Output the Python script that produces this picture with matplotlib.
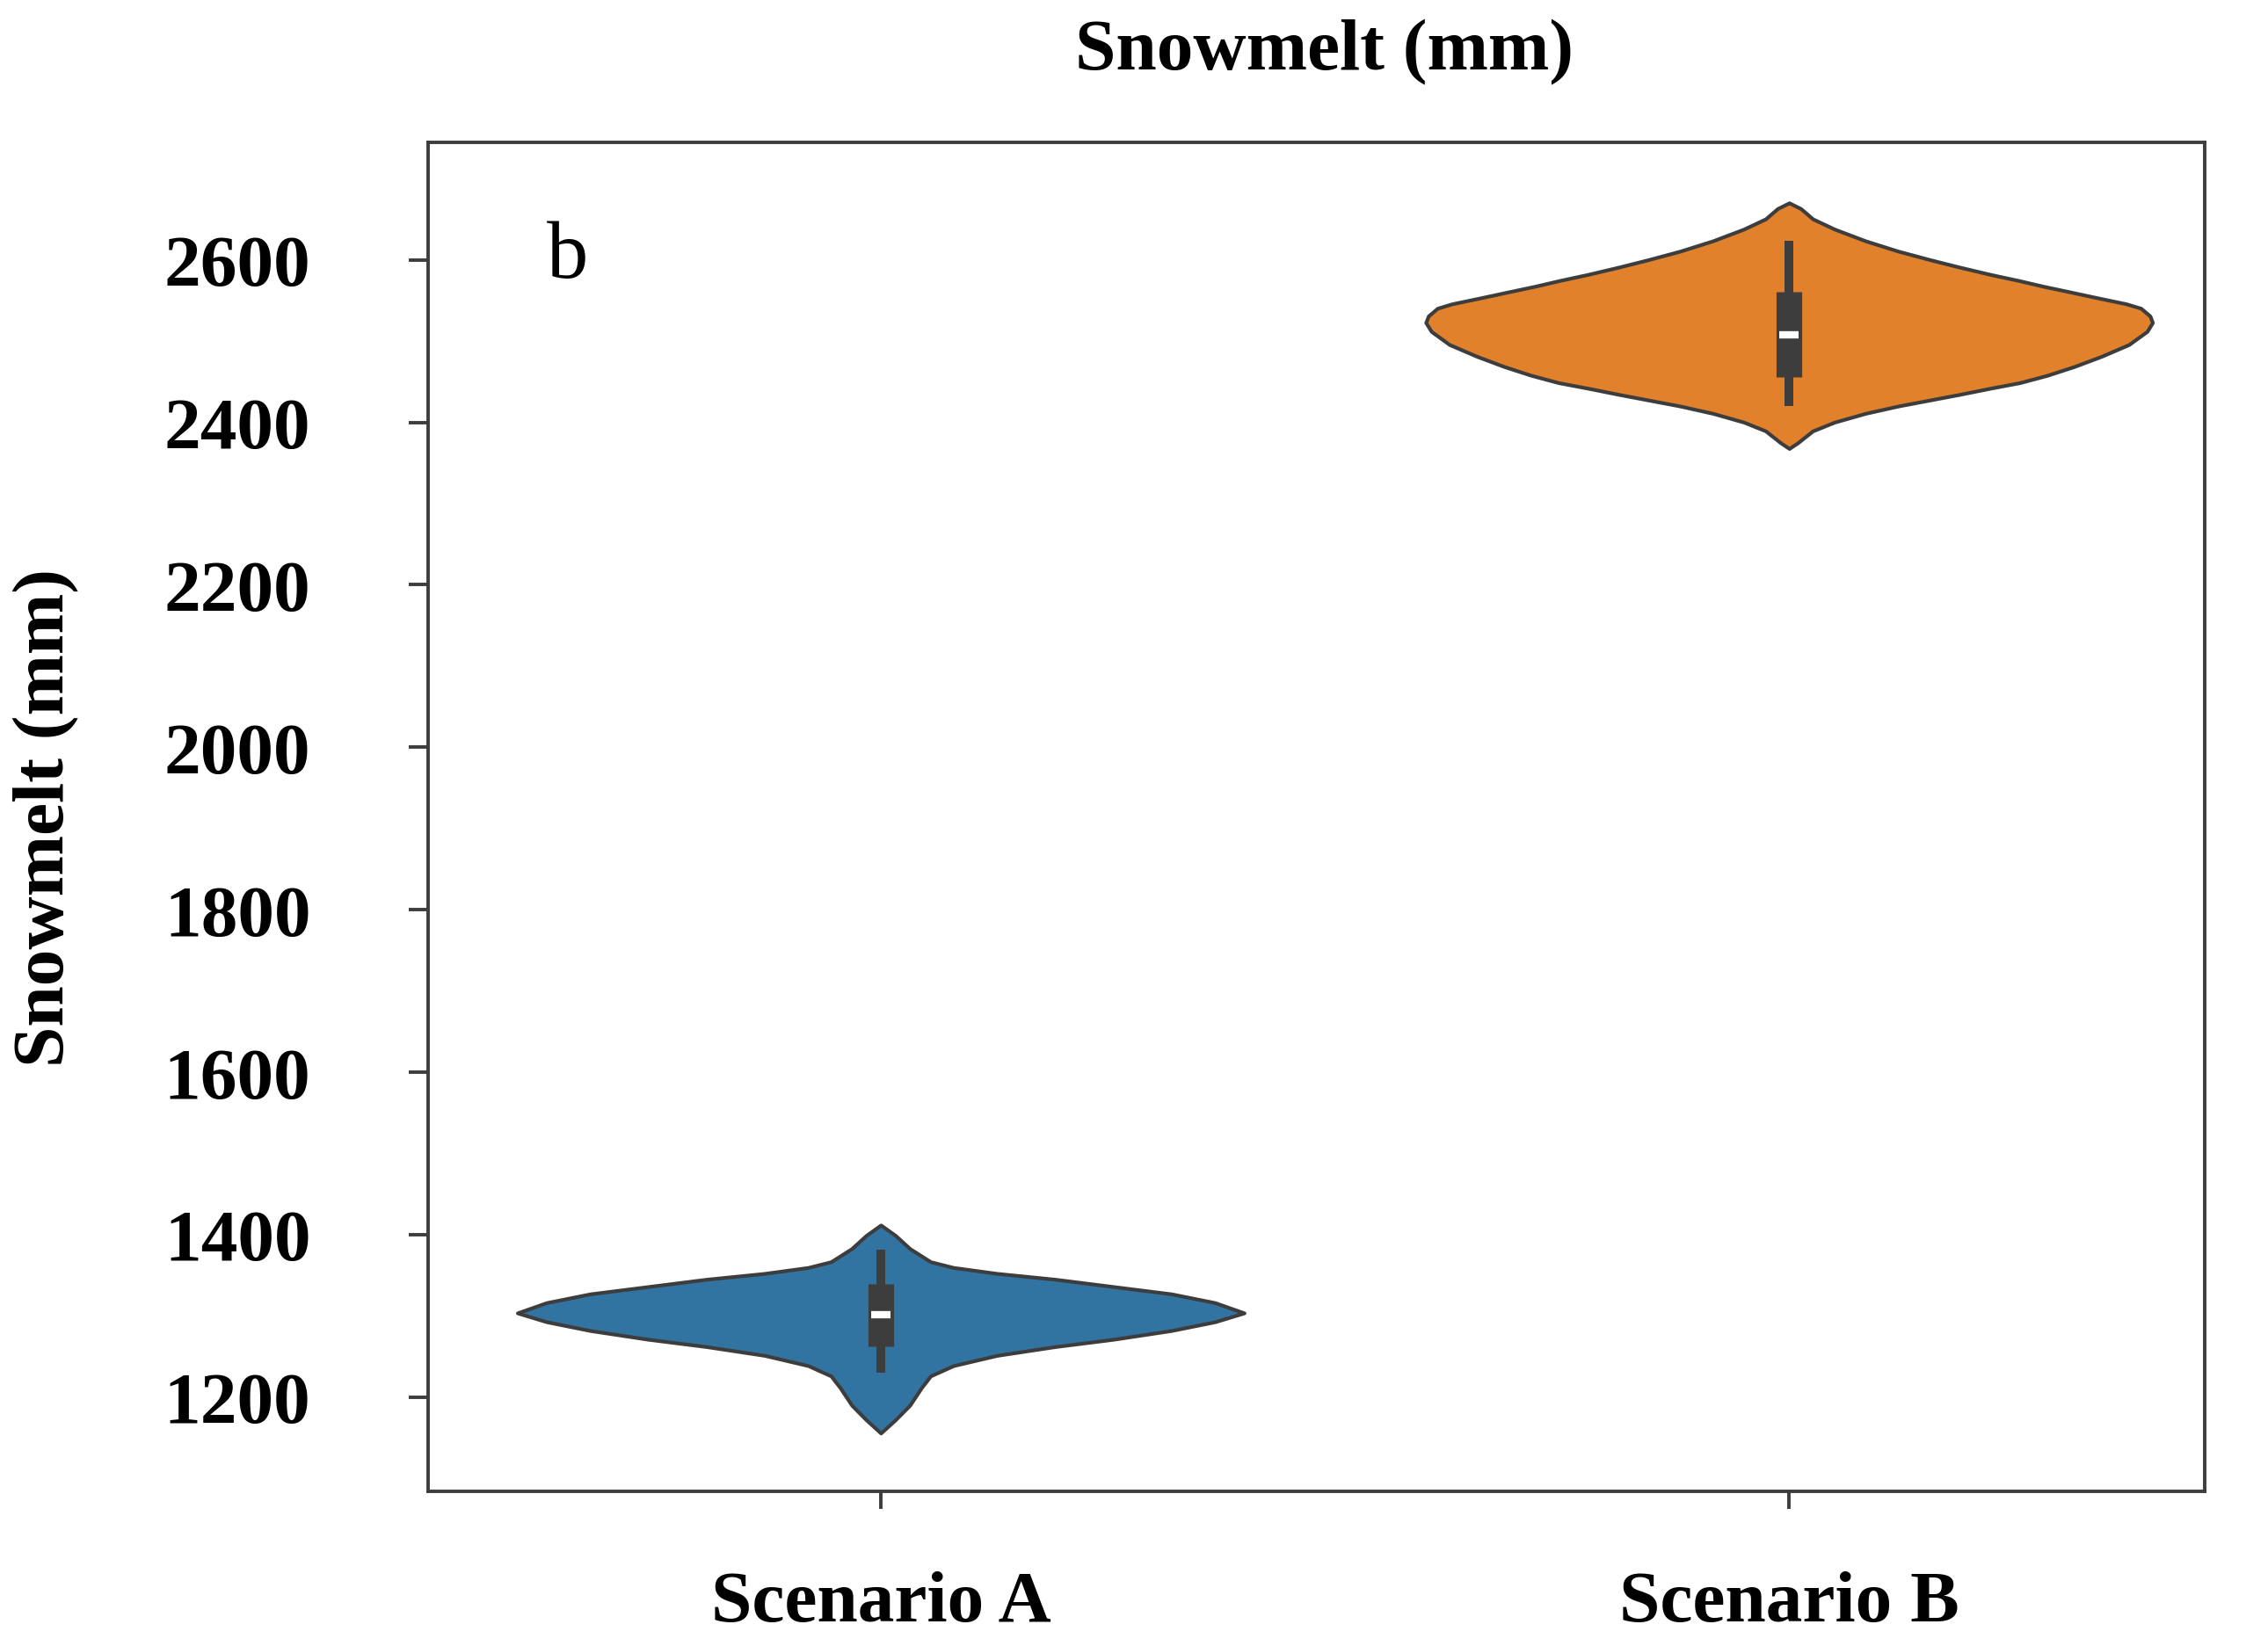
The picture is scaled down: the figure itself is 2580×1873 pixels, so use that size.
import matplotlib
matplotlib.use('Agg')
import matplotlib.pyplot as plt
import numpy as np

plt.rcParams['font.family'] = ['Liberation Serif', 'DejaVu Serif']

# categories
scenarios = ['Scenario A', 'Scenario B']
colors = ['#3274a1', '#e1812c']

# violin outlines: value (mm) and relative half width
a_vals = [1411.8, 1399.1, 1382.8, 1366.6, 1359.5, 1352.2, 1345.0, 1336.0, 1327.0, 1316.2,
          1303.6, 1292.7, 1281.9, 1271.1, 1262.1, 1251.3, 1238.7, 1226.0, 1211.6, 1190.0,
          1171.9, 1155.7]
a_width = [0.0, 0.04, 0.08, 0.137, 0.20, 0.32, 0.48, 0.64, 0.80, 0.92,
           1.0, 0.92, 0.80, 0.64, 0.48, 0.32, 0.20, 0.137, 0.112, 0.08,
           0.04, 0.0]

b_vals = [2670.3, 2663.2, 2650.5, 2637.9, 2623.5, 2610.8, 2600.0, 2591.0, 2582.0, 2574.8,
          2567.5, 2560.4, 2553.2, 2545.9, 2540.5, 2531.0, 2522.9, 2512.0, 2495.8, 2481.4,
          2468.8, 2457.9, 2448.9, 2441.7, 2434.5, 2427.3, 2420.1, 2411.1, 2400.3, 2389.5,
          2375.0, 2367.8]
b_width = [0.0, 0.032, 0.065, 0.125, 0.21, 0.30, 0.39, 0.47, 0.555, 0.63,
           0.70, 0.775, 0.85, 0.928, 0.968, 0.993, 1.0, 0.985, 0.935, 0.86,
           0.785, 0.71, 0.635, 0.55, 0.47, 0.385, 0.30, 0.21, 0.125, 0.065,
           0.024, 0.0]

# inner box: whisker low, q1, median, q3, whisker high
a_box = [1229.7, 1262.1, 1301.7, 1339.6, 1381.1]
b_box = [2419.7, 2455.8, 2508.0, 2560.4, 2623.5]

yticks = [1200, 1400, 1600, 1800, 2000, 2200, 2400, 2600]

fig = plt.figure(figsize=(12.9, 9.37), dpi=200)
ax = fig.add_axes([0.1886, 0.09375, 0.7833, 0.8194])

edge = '#3d3d3d'
for i, (vals, wid, box) in enumerate([(a_vals, a_width, a_box), (b_vals, b_width, b_box)]):
    v = np.array(vals)
    w = np.array(wid) * 0.4
    ax.fill_betweenx(v, i - w, i + w, facecolor=colors[i], edgecolor=edge,
                     linewidth=1.5, joinstyle='round', zorder=2)
    ax.plot([i, i], [box[0], box[4]], color=edge, lw=3.6, solid_capstyle='butt', zorder=3)
    ax.plot([i, i], [box[1], box[3]], color=edge, lw=10.5, solid_capstyle='butt', zorder=3)
    ax.plot([i], [box[2]], marker='_', color='white', markersize=8, mew=3, zorder=4)

ax.set_xlim(-0.4987, 1.457)
ax.set_ylim(1083.6, 2745)
ax.set_xticks([0, 1])
ax.set_xticklabels(scenarios, fontsize=30, fontweight='bold')
ax.set_yticks(yticks)
ax.set_yticklabels([str(t) for t in yticks], fontsize=30, fontweight='bold')
ax.tick_params(axis='y', direction='out', length=7.9, width=1.4, pad=40, color=edge)
ax.tick_params(axis='x', direction='out', length=7.2, width=1.4, pad=25, color=edge)
for s in ax.spines.values():
    s.set_linewidth(1.4)
    s.set_color(edge)

ax.set_ylabel('Snowmelt (mm)', fontsize=30, fontweight='bold')
ax.yaxis.set_label_coords(-0.196, 0.5)
ax.set_title('Snowmelt (mm)', fontsize=30, fontweight='bold', pad=30, x=0.5048)
ax.text(0.067, 0.90, 'b', transform=ax.transAxes, fontsize=34, ha='left', va='baseline')

fig.savefig('out.png', dpi=200)
